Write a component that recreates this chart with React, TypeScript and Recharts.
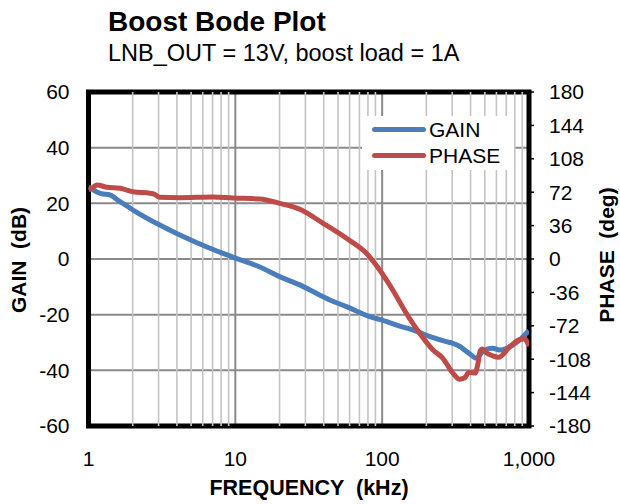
import React from 'react';
import { LineChart, Line, XAxis, YAxis, CartesianGrid, ReferenceLine, ReferenceArea, Legend } from 'recharts';

const gainFreq = [1, 1.14, 1.22, 1.4, 1.6, 2.01, 3.06, 4.19, 6.4, 9.61, 14.7, 20.1, 27.5, 33.8, 44, 57.1, 82.2, 96.2, 130, 162, 220, 273, 303, 340, 364, 400, 437, 460, 485, 530, 567, 630, 700, 776, 870, 957, 1000];
const gainDb = [25.9, 24.1, 23.5, 23.0, 21.0, 17.6, 12.2, 8.6, 4.3, 0.7, -2.9, -6.4, -9.3, -11.7, -14.7, -17.1, -20.7, -21.7, -24.0, -25.5, -28.2, -29.7, -30.3, -31.5, -32.7, -34.3, -35.7, -34.5, -33.3, -32.2, -32.1, -32.7, -32.2, -30.9, -29.0, -26.7, -25.9];

const phaseFreq = [1, 1.07, 1.14, 1.34, 1.64, 2.01, 2.62, 2.8, 3.05, 4.19, 7.04, 9.61, 14.7, 20.1, 27.5, 39.6, 57.1, 78.1, 96.2, 118, 146, 180, 222, 259, 303, 337, 365, 390, 430, 450, 465, 480, 512, 560, 620, 736, 861, 930, 1000];
const phaseDeg = [74.4, 77, 79.7, 77.3, 76.2, 72.5, 70.8, 70.0, 66.5, 66.1, 66.8, 65.7, 64.7, 60.0, 53.6, 38.5, 22.3, 6.1, -11.9, -33.4, -58.5, -80.1, -98.1, -107, -123, -129.6, -128, -122, -123, -112, -99, -97, -101, -104, -106, -95, -87, -86, -94];

const freqTicks = [1, 10, 100, 1000];
const minorFreq = [2, 3, 4, 5, 6, 7, 8, 9, 20, 30, 40, 50, 60, 70, 80, 90, 200, 300, 400, 500, 600, 700, 800, 900];
const gainTicks = [-60, -40, -20, 0, 20, 40, 60];
const phaseTicks = [-180, -144, -108, -72, -36, 0, 36, 72, 108, 144, 180];

const gainData = gainFreq.map((f, i) => ({ f, v: gainDb[i] }));
const phaseData = phaseFreq.map((f, i) => ({ f, v: phaseDeg[i] }));

const GAIN_COLOR = '#4A7EBB';
const PHASE_COLOR = '#BE4B48';
const FONT = '"Liberation Sans", Arial, sans-serif';

const legendItems = [
  { name: 'GAIN', color: GAIN_COLOR },
  { name: 'PHASE', color: PHASE_COLOR },
];

const renderLegend = () => (
  <div style={{ fontFamily: FONT, fontSize: 21, color: '#000', paddingLeft: 10 }}>
    {legendItems.map((it) => (
      <div key={it.name} style={{ display: 'flex', alignItems: 'center', height: 26 }}>
        <span style={{ display: 'inline-block', width: 54, height: 5, borderRadius: 3, background: it.color, marginRight: 3 }} />
        <span style={{ lineHeight: 1 }}>{it.name}</span>
      </div>
    ))}
  </div>
);

const tickStyle = { fill: '#000', fontSize: 21 };

export default function App() {
  return (
    <div style={{ position: 'absolute', left: 0, top: 0, width: 620, height: 504, background: '#fff', fontFamily: FONT }}>
      <div style={{ position: 'absolute', left: 108, top: 8, fontSize: 28, fontWeight: 'bold', lineHeight: 1, whiteSpace: 'pre' }}>Boost Bode Plot</div>
      <div style={{ position: 'absolute', left: 108, top: 42, fontSize: 23.5, lineHeight: 1, whiteSpace: 'pre' }}>LNB_OUT = 13V, boost load = 1A</div>
      <LineChart width={620} height={504} margin={{ top: 92, right: 31, bottom: 28, left: 30.5 }} style={{ fontFamily: FONT }}>
        <CartesianGrid yAxisId="g" stroke="#8a8a8a" strokeWidth={2} />
        {minorFreq.map((f) => (
          <ReferenceLine key={f} x={f} yAxisId="g" stroke="#c4c4c4" strokeWidth={1.6} />
        ))}
        <XAxis
          dataKey="f"
          type="number"
          scale="log"
          domain={[1, 1000]}
          ticks={freqTicks}
          allowDataOverflow
          tickFormatter={(v) => Number(v).toLocaleString('en-US')}
          tick={tickStyle}
          tickLine={false}
          axisLine={false}
          tickSize={6}
          tickMargin={19}
          height={50}
        />
        <YAxis
          yAxisId="g"
          domain={[-60, 60]}
          ticks={gainTicks}
          tick={tickStyle}
          tickLine={false}
          axisLine={false}
          tickSize={6}
          tickMargin={13}
          width={58}
        />
        <YAxis
          yAxisId="p"
          orientation="right"
          domain={[-180, 180]}
          ticks={phaseTicks}
          tick={tickStyle}
          tickLine={{ stroke: '#000', strokeWidth: 1.5 }}
          axisLine={false}
          tickSize={5}
          tickMargin={15}
          width={60}
        />
        <ReferenceArea x1={1} x2={1000} y1={-60} y2={60} yAxisId="g" fill="none" stroke="#000" strokeWidth={5} />
        <Line data={gainData} dataKey="v" yAxisId="g" name="GAIN" stroke={GAIN_COLOR} strokeWidth={5} dot={false} type="monotone" isAnimationActive={false} />
        <Line data={phaseData} dataKey="v" yAxisId="p" name="PHASE" stroke={PHASE_COLOR} strokeWidth={5} dot={false} type="monotone" isAnimationActive={false} />
        <Legend
          layout="vertical"
          align="center"
          verticalAlign="middle"
          content={renderLegend}
          wrapperStyle={{ top: 116, left: 362, width: 152, height: 54, background: '#fff' }}
        />
      </LineChart>
      <div style={{ position: 'absolute', left: 309, top: 489, transform: 'translate(-50%, -50%)', fontSize: 21.5, fontWeight: 'bold', lineHeight: 1, whiteSpace: 'pre' }}>FREQUENCY  (kHz)</div>
      <div style={{ position: 'absolute', left: 18, top: 260, transform: 'translate(-50%, -50%) rotate(-90deg)', fontSize: 21, fontWeight: 'bold', lineHeight: 1, whiteSpace: 'pre' }}>GAIN  (dB)</div>
      <div style={{ position: 'absolute', left: 606, top: 255, transform: 'translate(-50%, -50%) rotate(-90deg)', fontSize: 21, fontWeight: 'bold', lineHeight: 1, whiteSpace: 'pre' }}>PHASE  (deg)</div>
    </div>
  );
}
